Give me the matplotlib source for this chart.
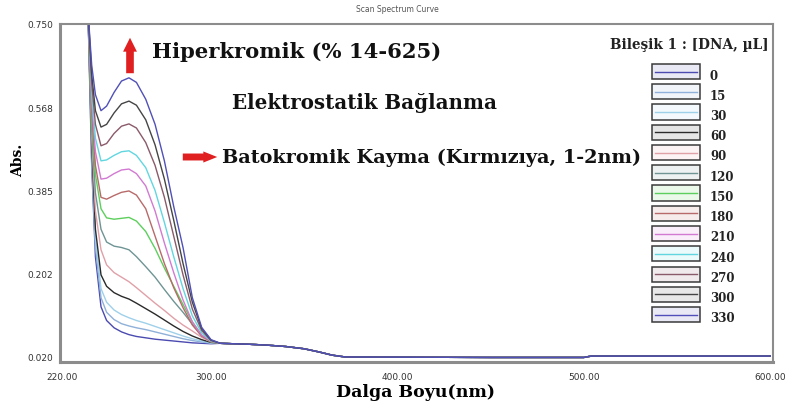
import matplotlib
matplotlib.use("Agg")
import matplotlib.pyplot as plt
from matplotlib.patches import Rectangle

# wavelengths where each curve was read (nm)
wl = [226, 232, 234, 236, 238, 241, 244, 248, 252, 256, 260, 265, 270, 275, 280, 285, 290, 295, 300]
# long flat tail shared by all curves after 300 nm
tail_wl = [305, 312, 320, 330, 340, 350, 358, 365, 372, 450, 500, 504, 600]
tail_abs = [0.050, 0.049, 0.048, 0.046, 0.043, 0.038, 0.031, 0.024, 0.020, 0.019, 0.019, 0.022, 0.022]

dna = ['0', '15', '30', '60', '90', '120', '150', '180', '210', '240', '270', '300', '330']
a0   = [1.5, 1.0, 0.78, 0.44, 0.24, 0.13, 0.100, 0.084, 0.075, 0.069, 0.065, 0.062, 0.059, 0.057, 0.055, 0.053, 0.051, 0.050, 0.049]
a15  = [1.5, 1.0, 0.78, 0.45, 0.26, 0.15, 0.118, 0.102, 0.093, 0.088, 0.084, 0.080, 0.075, 0.070, 0.065, 0.060, 0.056, 0.053, 0.050]
a30  = [1.5, 1.0, 0.78, 0.46, 0.28, 0.17, 0.140, 0.123, 0.113, 0.106, 0.100, 0.094, 0.087, 0.080, 0.073, 0.066, 0.060, 0.055, 0.051]
a60  = [1.5, 1.0, 0.78, 0.48, 0.30, 0.20, 0.175, 0.161, 0.153, 0.147, 0.138, 0.126, 0.114, 0.101, 0.088, 0.076, 0.066, 0.058, 0.052]
a90  = [1.5, 1.0, 0.78, 0.50, 0.34, 0.255, 0.222, 0.205, 0.195, 0.185, 0.172, 0.155, 0.138, 0.122, 0.105, 0.090, 0.077, 0.063, 0.053]
a120 = [1.5, 1.0, 0.78, 0.52, 0.38, 0.30, 0.272, 0.263, 0.260, 0.255, 0.240, 0.218, 0.195, 0.168, 0.142, 0.118, 0.092, 0.066, 0.054]
a150 = [1.5, 1.0, 0.78, 0.54, 0.42, 0.345, 0.325, 0.322, 0.324, 0.326, 0.318, 0.295, 0.258, 0.215, 0.175, 0.135, 0.097, 0.068, 0.054]
a180 = [1.5, 1.0, 0.78, 0.56, 0.44, 0.37, 0.366, 0.374, 0.381, 0.384, 0.375, 0.345, 0.285, 0.225, 0.172, 0.128, 0.090, 0.066, 0.054]
a210 = [1.5, 1.0, 0.78, 0.58, 0.47, 0.41, 0.412, 0.422, 0.430, 0.432, 0.422, 0.395, 0.340, 0.270, 0.205, 0.145, 0.097, 0.068, 0.055]
a240 = [1.5, 1.0, 0.78, 0.60, 0.50, 0.45, 0.452, 0.462, 0.470, 0.472, 0.462, 0.435, 0.385, 0.315, 0.240, 0.170, 0.110, 0.073, 0.055]
a270 = [1.5, 1.0, 0.78, 0.62, 0.53, 0.483, 0.488, 0.510, 0.526, 0.531, 0.522, 0.490, 0.440, 0.370, 0.285, 0.200, 0.125, 0.078, 0.056]
a300 = [1.5, 1.0, 0.78, 0.64, 0.56, 0.524, 0.530, 0.555, 0.575, 0.581, 0.572, 0.540, 0.485, 0.410, 0.320, 0.225, 0.140, 0.082, 0.057]
a330 = [1.5, 1.0, 0.78, 0.66, 0.595, 0.56, 0.570, 0.600, 0.625, 0.632, 0.622, 0.585, 0.530, 0.450, 0.350, 0.260, 0.150, 0.085, 0.058]
series = [a0, a15, a30, a60, a90, a120, a150, a180, a210, a240, a270, a300, a330]
colors = ['#4a4ab0', '#8fb0d8', '#9fd0ea', '#2a2a2a', '#e0a0a8', '#6f9494', '#5ccf5c',
          '#b86a6a', '#d27ad2', '#62d6e0', '#8a5a6a', '#454545', '#5050b8']

yticks = [0.020, 0.2025, 0.385, 0.5675, 0.750]
ytick_labels = ['0.020', '0.202', '0.385', '0.568', '0.750']
xticks = [220, 300, 400, 500, 600]
xtick_labels = ['220.00', '300.00', '400.00', '500.00', '600.00']

W, H = 793, 414
fig = plt.figure(figsize=(W / 100, H / 100), dpi=100)
ax = fig.add_axes([60 / W, 1 - 363 / H, 713 / W, 338 / H])

for vals, c in zip(series, colors):
    ax.plot(wl + tail_wl, vals + tail_abs, color=c, lw=1.0)

ax.set_xlim(219, 601.5)
ax.set_ylim(0.009, 0.750)
ax.set_yticks(yticks)
ax.set_yticklabels(ytick_labels)
ax.set_xticks(xticks)
ax.set_xticklabels(xtick_labels)
ax.tick_params(length=0, labelsize=6.5, colors='#333333')
ax.tick_params(axis='x', pad=7)
ax.tick_params(axis='y', pad=5)
for s in ax.spines.values():
    s.set_color('#8c8c8c')
    s.set_linewidth(1.5)
ax.spines['left'].set_linewidth(2.2)
ax.spines['bottom'].set_linewidth(2.2)

serif = 'DejaVu Serif'
fig.text(397 / W, 1 - 10 / H, 'Scan Spectrum Curve', ha='center', va='center', fontsize=5.5, color='#555555')
fig.text(18 / W, 1 - 160 / H, 'Abs.', rotation=90, ha='center', va='center', fontsize=10,
         fontweight='bold', family=serif)
fig.text(415 / W, 1 - 393 / H, 'Dalga Boyu(nm)', ha='center', va='center', fontsize=12.5,
         fontweight='bold', family=serif)

fig.text(152 / W, 1 - 52 / H, 'Hiperkromik (% 14-625)', ha='left', va='center', fontsize=15.2,
         fontweight='bold', family=serif, color='#111111')
fig.text(232 / W, 1 - 103 / H, 'Elektrostatik Bağlanma', ha='left', va='center', fontsize=14.3,
         fontweight='bold', family=serif, color='#111111')
fig.text(222 / W, 1 - 158 / H, 'Batokromik Kayma (Kırmızıya, 1-2nm)', ha='left', va='center', fontsize=13.9,
         fontweight='bold', family=serif, color='#111111')

# red arrows
ax.annotate('', xy=(130 / W, 1 - 36 / H), xytext=(130 / W, 1 - 77 / H), xycoords='figure fraction',
            arrowprops=dict(arrowstyle='simple,head_width=1.0,head_length=1.0,tail_width=0.55',
                            color='#e02020', lw=0))
ax.annotate('', xy=(220 / W, 1 - 158 / H), xytext=(180 / W, 1 - 158 / H), xycoords='figure fraction',
            arrowprops=dict(arrowstyle='simple,head_width=0.8,head_length=1.0,tail_width=0.5',
                            color='#e02020', lw=0))

# legend drawn as boxes
fig.text(610 / W, 1 - 45 / H, 'Bileşik 1 : [DNA, µL]', ha='left', va='center', fontsize=9.8,
         fontweight='bold', family=serif, color='#222222')
for i, (lab, c) in enumerate(zip(dna, colors)):
    top = 65 + i * 20.25
    fig.add_artist(Rectangle((652 / W, 1 - (top + 15) / H), 48 / W, 15 / H, transform=fig.transFigure,
                             facecolor=c, alpha=0.12, edgecolor='none'))
    fig.add_artist(Rectangle((652 / W, 1 - (top + 15) / H), 48 / W, 15 / H, transform=fig.transFigure,
                             facecolor='none', edgecolor='#3a3a3a', lw=1.1))
    fig.add_artist(plt.Line2D([655 / W, 697 / W], [1 - (top + 7.5) / H] * 2, transform=fig.transFigure,
                              color=c, lw=1.0))
    fig.text(710 / W, 1 - (top + 11) / H, lab, ha='left', va='center', fontsize=8.5,
             fontweight='bold', family=serif, color='#222222')

fig.savefig('out.png', dpi=100)
